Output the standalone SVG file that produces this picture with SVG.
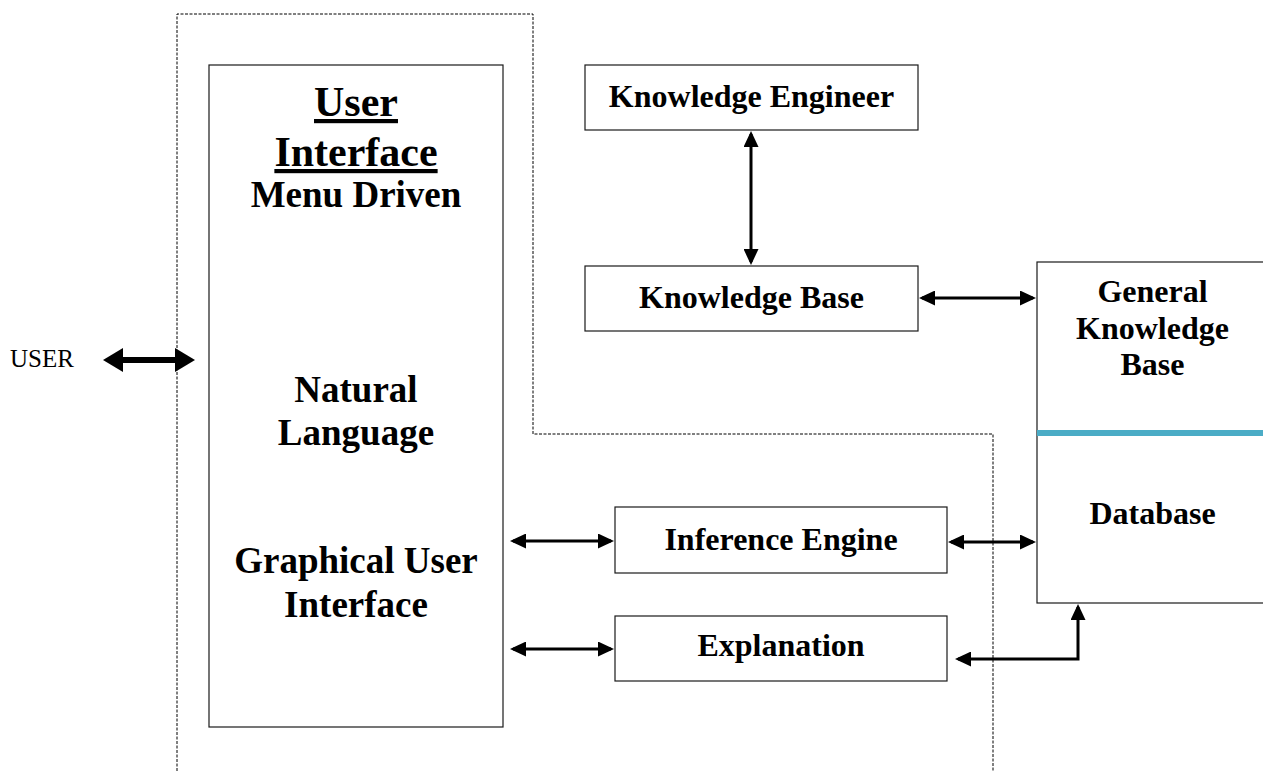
<svg xmlns="http://www.w3.org/2000/svg" width="1263" height="771" viewBox="0 0 1263 771">
  <style>
    .box { fill: #ffffff; stroke: #1a1a1a; stroke-width: 1.2; }
    .lbl { font-family: "Liberation Serif", "Times New Roman", serif; font-weight: bold; font-size: 32px; fill: #000; text-anchor: middle; }
    .big { font-size: 37px; }
    .head { font-size: 42px; text-decoration: underline; text-decoration-thickness: 3px; }
    .plain { font-family: "Liberation Serif", "Times New Roman", serif; font-size: 25px; fill: #000; }
    .conn { fill: none; stroke: #000; stroke-width: 3; }
    .conn-thick { fill: none; stroke: #000; stroke-width: 6; }
    .boundary { fill: none; stroke: #000; stroke-width: 1; stroke-dasharray: 3 1.5; }
  </style>
  <defs>
    <marker id="arrow" viewBox="0 0 16 15" refX="13" refY="7.5" markerWidth="16" markerHeight="15" markerUnits="userSpaceOnUse" orient="auto-start-reverse">
      <path d="M0,0 L16,7.5 L0,15 z" fill="#000"/>
    </marker>
    <marker id="arrow-thick" viewBox="0 0 20 24" refX="14" refY="12" markerWidth="20" markerHeight="24" markerUnits="userSpaceOnUse" orient="auto-start-reverse">
      <path d="M0,0 L20,12 L0,24 z" fill="#000"/>
    </marker>
  </defs>

  <rect width="1263" height="771" fill="#ffffff"/>

  <!-- system boundary (dotted outline) -->
  <path class="boundary" d="M177,771 V14 H533 V434 H993 V771"/>

  <g id="user">
    <text class="plain" x="10" y="367">USER</text>
  </g>

  <g id="user-interface">
    <rect class="box" x="209" y="65" width="294" height="662"/>
    <text class="lbl head" x="356" y="116">User</text>
    <text class="lbl head" x="356" y="166">Interface</text>
    <text class="lbl big" x="356" y="207">Menu Driven</text>
    <text class="lbl big" x="356" y="402">Natural</text>
    <text class="lbl big" x="356" y="445">Language</text>
    <text class="lbl big" x="356" y="573">Graphical User</text>
    <text class="lbl big" x="356" y="617">Interface</text>
  </g>

  <g id="knowledge-engineer">
    <rect class="box" x="585" y="65" width="333" height="65"/>
    <text class="lbl" x="751.5" y="107">Knowledge Engineer</text>
  </g>

  <g id="knowledge-base">
    <rect class="box" x="585" y="266" width="333" height="65"/>
    <text class="lbl" x="751.5" y="308">Knowledge Base</text>
  </g>

  <g id="general-knowledge-base">
    <rect class="box" x="1037" y="262" width="232" height="341"/>
    <line x1="1037" y1="433" x2="1263" y2="433" stroke="#4BACC6" stroke-width="6"/>
    <text class="lbl" x="1152.5" y="302">General</text>
    <text class="lbl" x="1152.5" y="339">Knowledge</text>
    <text class="lbl" x="1152.5" y="375">Base</text>
    <text class="lbl" x="1152.5" y="524">Database</text>
  </g>

  <g id="inference-engine">
    <rect class="box" x="615" y="507" width="332" height="66"/>
    <text class="lbl" x="781" y="550">Inference Engine</text>
  </g>

  <g id="explanation">
    <rect class="box" x="615" y="616" width="332" height="65"/>
    <text class="lbl" x="781" y="656">Explanation</text>
  </g>

  <g id="connectors">
    <line class="conn-thick" x1="109" y1="360" x2="189" y2="360" marker-start="url(#arrow-thick)" marker-end="url(#arrow-thick)"/>
    <line class="conn" x1="751" y1="134" x2="751" y2="262" marker-start="url(#arrow)" marker-end="url(#arrow)"/>
    <line class="conn" x1="922" y1="298" x2="1033" y2="298" marker-start="url(#arrow)" marker-end="url(#arrow)"/>
    <line class="conn" x1="513" y1="541" x2="611" y2="541" marker-start="url(#arrow)" marker-end="url(#arrow)"/>
    <line class="conn" x1="951" y1="542" x2="1033" y2="542" marker-start="url(#arrow)" marker-end="url(#arrow)"/>
    <line class="conn" x1="513" y1="649" x2="611" y2="649" marker-start="url(#arrow)" marker-end="url(#arrow)"/>
    <path class="conn" d="M958,659 H1078 V607" marker-start="url(#arrow)" marker-end="url(#arrow)"/>
  </g>
</svg>
